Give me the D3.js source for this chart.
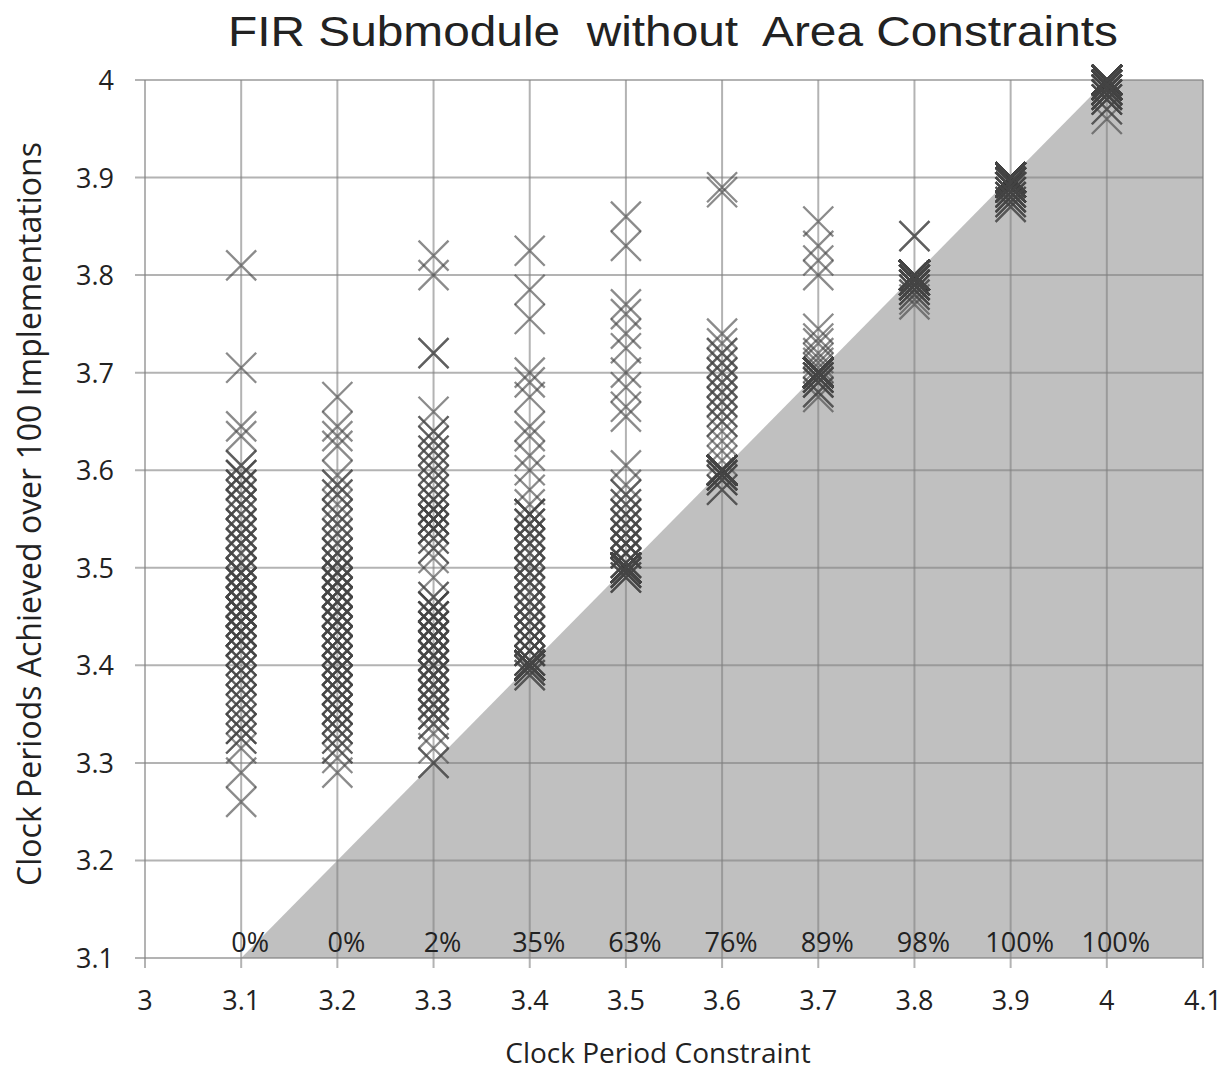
<!DOCTYPE html>
<html>
<head>
<meta charset="utf-8">
<script src="https://cdn.jsdelivr.net/npm/d3@7"></script>
<style>
  body { margin: 0; background: #fff; }
  svg text { fill: #222; }
</style>
</head>
<body>
<svg width="1227" height="1074"></svg>
<script>
// constraint values on the x axis
var constraints = [3.1, 3.2, 3.3, 3.4, 3.5, 3.6, 3.7, 3.8, 3.9, 4.0];

// achieved clock periods for each constraint, as [value, how many implementations]
var col31 = [[3.81,1],[3.705,1],[3.645,1],[3.635,1],[3.605,2],[3.595,3],[3.585,3],[3.575,2],[3.565,3],[3.555,2],
  [3.545,3],[3.535,3],[3.525,3],[3.515,2],[3.505,3],[3.495,4],[3.485,5],[3.475,4],[3.465,4],[3.455,6],
  [3.445,4],[3.435,6],[3.425,5],[3.415,3],[3.405,3],[3.395,3],[3.385,3],[3.375,2],[3.365,3],[3.355,2],
  [3.345,2],[3.335,3],[3.325,2],[3.315,1],[3.29,1],[3.26,1]];
var col32 = [[3.675,1],[3.645,1],[3.635,1],[3.625,1],[3.595,1],[3.585,2],[3.575,2],[3.565,1],[3.555,2],[3.545,2],
  [3.535,2],[3.525,2],[3.515,3],[3.505,3],[3.495,4],[3.485,5],[3.475,4],[3.465,4],[3.455,4],[3.445,5],
  [3.435,4],[3.425,5],[3.415,4],[3.405,5],[3.395,5],[3.385,4],[3.375,4],[3.365,3],[3.355,4],[3.345,3],
  [3.335,3],[3.325,2],[3.315,2],[3.305,1],[3.29,1]];
var col33 = [[3.82,1],[3.80,1],[3.72,2],[3.66,1],[3.64,2],[3.63,2],[3.62,2],[3.61,2],[3.60,2],[3.59,2],
  [3.58,2],[3.57,3],[3.56,4],[3.55,5],[3.54,5],[3.53,2],[3.52,2],[3.51,1],[3.49,1],[3.47,2],
  [3.46,5],[3.45,6],[3.44,6],[3.43,5],[3.42,4],[3.41,4],[3.40,4],[3.39,4],[3.38,3],[3.37,3],
  [3.36,3],[3.35,3],[3.34,2],[3.33,1],[3.315,1],[3.30,2]];
var col34 = [[3.825,1],[3.785,1],[3.755,1],[3.70,1],[3.69,1],[3.675,1],[3.645,1],[3.635,1],[3.615,1],[3.60,1],
  [3.58,1],[3.565,1],[3.555,4],[3.545,3],[3.535,3],[3.525,3],[3.515,2],[3.505,3],[3.495,3],[3.485,3],
  [3.475,2],[3.465,3],[3.455,3],[3.445,3],[3.435,4],[3.425,4],[3.415,5],[3.405,5],[3.40,30],[3.395,3],[3.39,2]];
var col35 = [[3.86,1],[3.83,1],[3.77,1],[3.76,1],[3.74,1],[3.725,1],[3.70,1],[3.685,1],[3.665,1],[3.655,1],
  [3.605,1],[3.585,1],[3.575,2],[3.565,2],[3.555,3],[3.545,3],[3.535,3],[3.525,4],[3.515,4],[3.505,4],
  [3.50,55],[3.495,5],[3.49,3]];
var col36 = [[3.89,1],[3.885,1],[3.74,1],[3.73,1],[3.72,2],[3.71,2],[3.70,2],[3.69,2],[3.68,2],[3.67,2],
  [3.66,2],[3.65,2],[3.64,1],[3.63,1],[3.62,1],[3.61,1],[3.60,66],[3.595,5],[3.59,3],[3.58,2]];
var col37 = [[3.855,1],[3.83,1],[3.815,1],[3.80,1],[3.745,1],[3.735,1],[3.73,1],[3.72,1],[3.715,1],[3.71,1],
  [3.705,1],[3.70,78],[3.695,5],[3.69,3],[3.68,2],[3.675,1]];
var col38 = [[3.84,2],[3.80,60],[3.795,20],[3.79,10],[3.785,4],[3.78,2],[3.775,1],[3.77,1]];
var col39 = [[3.90,50],[3.895,20],[3.89,15],[3.885,6],[3.88,4],[3.875,3],[3.87,2]];
var col40 = [[4.00,55],[3.995,20],[3.99,12],[3.985,6],[3.98,4],[3.97,2],[3.96,1]];

var columns = [col31, col32, col33, col34, col35, col36, col37, col38, col39, col40];

// share of implementations meeting the constraint
var metLabels = ["0%", "0%", "2%", "35%", "63%", "76%", "89%", "98%", "100%", "100%"];

var xTicks = [3, 3.1, 3.2, 3.3, 3.4, 3.5, 3.6, 3.7, 3.8, 3.9, 4, 4.1];
var yTicks = [3.1, 3.2, 3.3, 3.4, 3.5, 3.6, 3.7, 3.8, 3.9, 4];

var svg = d3.select("svg");
var mLeft = 145, mRight = 1203, mTop = 80, mBottom = 958;

var x = d3.scaleLinear().domain([3, 4.1]).range([mLeft, mRight]);
var y = d3.scaleLinear().domain([3.1, 4]).range([mBottom, mTop]);

// shaded region: achieved <= constraint
var shade = [[3.1, 3.1], [4, 4], [4.1, 4], [4.1, 3.1]];
svg.append("path")
    .attr("d", d3.line().x(function(d) { return x(d[0]); }).y(function(d) { return y(d[1]); })(shade) + "Z")
    .attr("fill", "#c0c0c0");

// grid
var grid = svg.append("g").attr("stroke", "#808080").attr("stroke-opacity", 0.6).attr("stroke-width", 2);
grid.selectAll(".vx")
    .data(xTicks)
    .enter()
        .append("line")
        .attr("x1", function(d) { return x(d); })
        .attr("x2", function(d) { return x(d); })
        .attr("y1", mTop)
        .attr("y2", mBottom + 10);
grid.selectAll(".hy")
    .data(yTicks)
    .enter()
        .append("line")
        .attr("x1", mLeft - 10)
        .attr("x2", mRight)
        .attr("y1", function(d) { return y(d); })
        .attr("y2", function(d) { return y(d); });

// points
var pts = [];
columns.forEach(function(col, i) {
    col.forEach(function(p) {
        for (var k = 0; k < p[1]; k++) pts.push({c: constraints[i], v: p[0]});
    });
});

var s = 15;
svg.append("g")
    .attr("class", "marks")
    .selectAll("path")
    .data(pts)
    .enter()
        .append("path")
        .attr("d", function(d) {
            var cx = x(d.c), cy = y(d.v);
            return "M" + (cx - s) + "," + (cy - s) + "L" + (cx + s) + "," + (cy + s) +
                   "M" + (cx - s) + "," + (cy + s) + "L" + (cx + s) + "," + (cy - s);
        })
        .attr("stroke", "#444")
        .attr("stroke-opacity", 0.62)
        .attr("stroke-width", 2.3)
        .attr("fill", "none");

// tick labels
var tickFont = "'Open Sans', 'DejaVu Sans', sans-serif";
svg.append("g").selectAll("text")
    .data(xTicks)
    .enter()
        .append("text")
        .attr("x", function(d) { return x(d); })
        .attr("y", 1010)
        .attr("text-anchor", "middle")
        .attr("font-family", tickFont)
        .attr("font-size", 27)
        .text(function(d) { return +d.toFixed(1); });

svg.append("g").selectAll("text")
    .data(yTicks)
    .enter()
        .append("text")
        .attr("x", 114)
        .attr("y", function(d) { return y(d) + 10; })
        .attr("text-anchor", "end")
        .attr("font-family", tickFont)
        .attr("font-size", 27)
        .text(function(d) { return +d.toFixed(1); });

// percentage annotations
svg.append("g").selectAll("text")
    .data(metLabels)
    .enter()
        .append("text")
        .attr("x", function(d, i) { return x(constraints[i]) + 9; })
        .attr("y", 952)
        .attr("text-anchor", "middle")
        .attr("font-family", tickFont)
        .attr("font-size", 27)
        .text(function(d) { return d; });

// titles
svg.append("text")
    .attr("x", 673)
    .attr("y", 46)
    .attr("text-anchor", "middle")
    .attr("font-family", "'Liberation Sans', Arial, sans-serif")
    .attr("font-size", 42)
    .attr("textLength", 890)
    .attr("lengthAdjust", "spacingAndGlyphs")
    .style("white-space", "pre")
    .text("FIR Submodule  without  Area Constraints");

svg.append("text")
    .attr("x", 658)
    .attr("y", 1063)
    .attr("text-anchor", "middle")
    .attr("font-family", tickFont)
    .attr("font-size", 28)
    .text("Clock Period Constraint");

svg.append("text")
    .attr("transform", "translate(41,514) rotate(-90)")
    .attr("text-anchor", "middle")
    .attr("font-family", tickFont)
    .attr("font-size", 32)
    .text("Clock Periods Achieved over 100 Implementations");
</script>
</body>
</html>
